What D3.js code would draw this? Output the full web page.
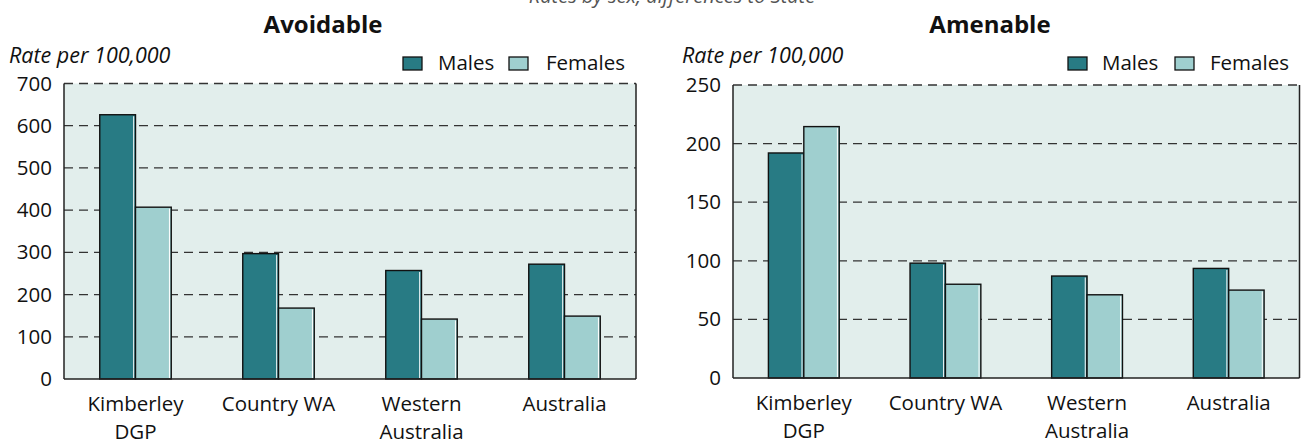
<!DOCTYPE html>
<html><head><meta charset="utf-8">
<script src="https://cdn.jsdelivr.net/npm/d3@7"></script>
<style>
html,body{margin:0;padding:0;background:#fff;}
svg{display:block;font-family:"Open Sans",sans-serif;}
</style></head>
<body><svg id="c" width="1301" height="443"></svg>
<script>
const categories = [["Kimberley","DGP"],["Country WA"],["Western","Australia"],["Australia"]];
const series = ["Males","Females"];
const avoidableMales   = [626, 297, 257, 272];
const avoidableFemales = [407, 168, 142, 149];
const amenableMales    = [192, 98, 87, 93.5];
const amenableFemales  = [214.5, 80, 71, 75];
const avoidableTicks = [0,100,200,300,400,500,600,700];
const amenableTicks  = [0,50,100,150,200,250];
const colors = {Males:"#287b84", Females:"#9fcfcf"};

const svg = d3.select("#c");
const font = 'Open Sans, sans-serif';

// cut-off heading at the very top
svg.append("text").attr("x",672).attr("y",3).attr("text-anchor","middle")
  .attr("font-style","italic").attr("font-size",20).attr("fill","#555")
  .text("Rates by sex, differences to State");

function panel(cfg){
  const g = svg.append("g");
  const x = d3.scaleBand().domain(d3.range(categories.length)).range([cfg.x0,cfg.x1]).padding(0);
  const bw = x.bandwidth();
  const xs = d3.scaleBand().domain(series).range([bw*0.25,bw*0.75]).padding(0);
  const y = d3.scaleLinear().domain([0,cfg.max]).range([cfg.y0,cfg.y1]);

  g.append("rect").attr("x",cfg.x0).attr("y",y(cfg.max)).attr("width",cfg.x1-cfg.x0)
    .attr("height",cfg.y0-y(cfg.max)).attr("fill","#e2eeec");

  // gridlines
  g.selectAll("line.grid").data(cfg.ticks.filter(t=>t>0)).join("line")
    .attr("x1",cfg.x0).attr("x2",cfg.x1).attr("y1",d=>y(d)).attr("y2",d=>y(d))
    .attr("stroke","#333").attr("stroke-width",1.3).attr("stroke-dasharray","9,6");

  // frame
  g.append("line").attr("x1",cfg.x0).attr("x2",cfg.x0).attr("y1",y(cfg.max)).attr("y2",cfg.y0).attr("stroke","#222").attr("stroke-width",1.5);
  g.append("line").attr("x1",cfg.x1).attr("x2",cfg.x1).attr("y1",y(cfg.max)).attr("y2",cfg.y0).attr("stroke","#222").attr("stroke-width",1.5);

  // bars
  const data = [];
  categories.forEach((c,i)=>{
    data.push({i, s:"Males", v:cfg.males[i]});
    data.push({i, s:"Females", v:cfg.females[i]});
  });
  const bars = g.selectAll("g.bar").data(data).join("g");
  bars.append("rect")
    .attr("x",d=>x(d.i)+xs(d.s)).attr("y",d=>y(d.v))
    .attr("width",xs.bandwidth()).attr("height",d=>cfg.y0-y(d.v))
    .attr("fill",d=>colors[d.s]).attr("stroke","#111").attr("stroke-width",1.4);
  bars.append("line")
    .attr("x1",d=>x(d.i)+xs(d.s)+xs.bandwidth()-1.8).attr("x2",d=>x(d.i)+xs(d.s)+xs.bandwidth()-1.8)
    .attr("y1",d=>y(d.v)+1.5).attr("y2",cfg.y0-1)
    .attr("stroke","#fff").attr("stroke-width",1);

  // bottom axis line
  g.append("line").attr("x1",cfg.x0).attr("x2",cfg.x1).attr("y1",cfg.y0).attr("y2",cfg.y0).attr("stroke","#222").attr("stroke-width",1.6);

  // y axis
  const ya = d3.axisLeft(y).tickValues(cfg.ticks).tickSize(0).tickPadding(12).tickFormat(d3.format("d"));
  const yg = g.append("g").attr("transform",`translate(${cfg.x0},0)`).call(ya);
  yg.select(".domain").remove();
  yg.selectAll("text").attr("font-size",20.5).attr("font-family",font).attr("fill","#111");

  // x axis
  const xg = g.append("g");
  categories.forEach((c,i)=>{
    c.forEach((line,k)=>{
      xg.append("text").attr("x",x(i)+bw/2).attr("y",cfg.y0+32+k*27.5)
        .attr("text-anchor","middle").attr("font-size",20.5).attr("fill","#111").text(line);
    });
  });

  // title
  g.append("text").attr("x",cfg.titleX).attr("y",33).attr("text-anchor","middle")
    .attr("font-weight","bold").attr("font-size",24).attr("fill","#111").text(cfg.title);
  g.append("text").attr("x",cfg.rateX).attr("y",62.5).attr("font-style","italic")
    .attr("font-size",21.5).attr("fill","#111").text("Rate per 100,000");

  // legend
  const lg = g.append("g");
  cfg.legend.forEach((L,k)=>{
    lg.append("rect").attr("x",L.sx).attr("y",57).attr("width",19).attr("height",13)
      .attr("fill",colors[series[k]]).attr("stroke","#111").attr("stroke-width",1.3);
    lg.append("text").attr("x",L.tx).attr("y",70).attr("font-size",20.5).attr("fill","#111").text(series[k]);
  });
}

panel({x0:64,x1:636,y0:379,y1:83.5,max:700,ticks:avoidableTicks,males:avoidableMales,females:avoidableFemales,
  title:"Avoidable",titleX:323,rateX:9,legend:[{sx:403,tx:438},{sx:509,tx:546}]});
panel({x0:733,x1:1299.5,y0:378,y1:85,max:250,ticks:amenableTicks,males:amenableMales,females:amenableFemales,
  title:"Amenable",titleX:990,rateX:682,legend:[{sx:1068,tx:1102},{sx:1175,tx:1210}]});
</script></body></html>
